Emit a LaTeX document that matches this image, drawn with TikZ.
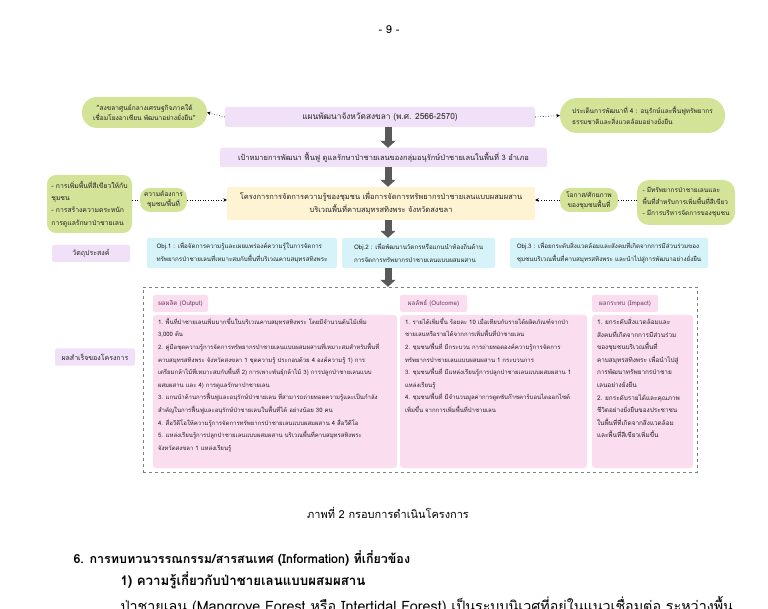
\documentclass[tikz,border=0pt]{standalone}
\usepackage{fontspec}
\setmainfont[Script=Thai]{Loma}
\usetikzlibrary{positioning,arrows.meta,calc}
\definecolor{leafgreen}{HTML}{D3E398}
\definecolor{planlilac}{HTML}{F1E1F8}
\definecolor{projcream}{HTML}{FEF4D3}
\definecolor{objcyan}{HTML}{D5F3F8}
\definecolor{respink}{HTML}{FBDDF0}
\definecolor{arrowgrey}{HTML}{595959}
\definecolor{inkgrey}{HTML}{222222}
\definecolor{headmauve}{HTML}{6E3A63}
\tikzset{
    box/.style={inner sep=0pt,text=inkgrey,align=center,font=\fontsize{6.6}{10}\selectfont},
    pill/.style={box,fill=leafgreen,rounded corners=9pt},
    tag/.style={box,fill=planlilac,rounded corners=2pt},
    objbox/.style={box,fill=objcyan,rounded corners=2pt,minimum height=30pt,align=left,font=\fontsize{6.2}{13}\selectfont},
    reshead/.style={box,fill=respink,rounded corners=2pt,minimum height=17pt,text=headmauve,font=\fontsize{6.3}{9}\selectfont},
    resbody/.style={box,fill=respink,rounded corners=3pt,minimum height=153pt},
    bodytxt/.style={inner sep=0pt,text=inkgrey,align=left,font=\fontsize{6}{12.6}\selectfont},
    dotlink/.style={draw=black,dotted,semithick},
    dotarrow/.style={dotlink,-{Stealth[length=3.5pt,width=3.5pt]}},
    blockarrow/.style={draw=arrowgrey,line width=7pt,-{Triangle[length=7pt,width=15pt]}},
}
\begin{document}
\begin{tikzpicture}[x=1pt,y=-1pt]
    \fill[white] (0,0) rectangle (768,609);
    \useasboundingbox (0,0) rectangle (768,609);
    \coordinate (ax) at (388,0);

    \node[font=\fontsize{11}{13}\selectfont] (pgno) at (389,30) {- 9 -};

    % top row
    \node[tag,minimum width=310pt,minimum height=20pt,font=\fontsize{8.3}{10}\selectfont] (plan) at (380,117) {แผนพัฒนาจังหวัดสงขลา (พ.ศ. 2566-2570)};
    \node[pill,minimum width=125pt,minimum height=31pt,rounded corners=15pt] (vision) at (144.5,112.5) {"สงขลาศูนย์กลางเศรษฐกิจภาคใต้\\เชื่อมโยงอาเซียน พัฒนาอย่างยั่งยืน"};
    \node[pill,minimum width=165pt,minimum height=35pt,rounded corners=17pt,align=left,font=\fontsize{6.5}{11}\selectfont] (issue) at (642.5,115.5) {ประเด็นการพัฒนาที่ 4 : อนุรักษ์และฟื้นฟูทรัพยากร\\ธรรมชาติและสิ่งแวดล้อมอย่างยั่งยืน};
    \node[tag,minimum width=327pt,minimum height=19pt,font=\fontsize{7.5}{9}\selectfont] (goal) at (383.5,157.5) {เป้าหมายการพัฒนา ฟื้นฟู ดูแลรักษาป่าชายเลนของกลุ่มอนุรักษ์ป่าชายเลนในพื้นที่ 3 อำเภอ};

    % project row
    \node[box,fill=projcream,rounded corners=2pt,minimum width=308pt,minimum height=33pt,font=\fontsize{7.5}{13}\selectfont] (project) at (381,203.5) {โครงการการจัดการความรู้ของชุมชน เพื่อการจัดการทรัพยากรป่าชายเลนแบบผสมผสาน\\บริเวณพื้นที่คาบสมุทรสทิงพระ จังหวัดสงขลา};
    \node[pill,minimum width=85pt,minimum height=58pt,align=left,font=\fontsize{6.8}{12.3}\selectfont] (needs) at (89.5,204) {- การเพิ่มพื้นที่สีเขียวให้กับ\\ชุมชน\\- การสร้างความตระหนัก\\การดูแลรักษาป่าชายเลน};
    \node[pill,minimum width=47pt,minimum height=24pt,rounded corners=10pt] (needlbl) at (163.5,200) {ความต้องการ\\ชุมชน/พื้นที่};
    \node[pill,minimum width=58pt,minimum height=24pt,rounded corners=10pt] (chancelbl) at (589,200) {โอกาส/ศักยภาพ\\ของชุมชนพื้นที่};
    \node[pill,minimum width=98pt,minimum height=45pt,rounded corners=12pt,align=left,font=\fontsize{6.5}{11.5}\selectfont] (chance) at (686,202.5) {- มีทรัพยากรป่าชายเลนและ\\พื้นที่สำหรับการเพิ่มพื้นที่สีเขียว\\- มีการบริหารจัดการของชุมชน};

    % objectives
    \node[tag,minimum width=78pt,minimum height=17pt,font=\fontsize{7}{9}\selectfont] (objlbl) at (91,253.5) {วัตถุประสงค์};
    \node[objbox,minimum width=190pt] (obj1) at (242,253) {Obj.1 : เพื่อจัดการความรู้และเผยแพร่องค์ความรู้ในการจัดการ\\ทรัพยากรป่าชายเลนที่เหมาะสมกับพื้นที่บริเวณคาบสมุทรสทิงพระ};
    \node[objbox,minimum width=153pt] (obj2) at (418.5,253) {Obj.2 : เพื่อพัฒนานวัตกรหรือแกนนำท้องถิ่นด้าน\\การจัดการทรัพยากรป่าชายเลนแบบผสมผสาน};
    \node[objbox,minimum width=198pt] (obj3) at (609,253) {Obj.3 : เพื่อยกระดับสิ่งแวดล้อมและสังคมที่เกิดจากการมีส่วนร่วมของ\\ชุมชนบริเวณพื้นที่คาบสมุทรสทิงพระ และนำไปสู่การพัฒนาอย่างยั่งยืน};

    % results
    \node[draw=gray,dashed,thin,minimum width=554pt,minimum height=185pt,inner sep=0pt] (frame) at (420,379.5) {};
    \node[tag,minimum width=80pt,minimum height=17pt,font=\fontsize{7}{9}\selectfont] (reslbl) at (95,357) {ผลสำเร็จของโครงการ};
    \node[reshead,minimum width=55pt] (outh) at (180.5,303.5) {ผลผลิต (Output)};
    \node[reshead,minimum width=67pt] (ocmh) at (433.5,303.5) {ผลลัพธ์ (Outcome)};
    \node[reshead,minimum width=66pt] (imph) at (625,303.5) {ผลกระทบ (Impact)};
    \node[resbody,minimum width=244pt] (outb) at (275,391.5) {};
    \node[resbody,minimum width=187pt] (ocmb) at (493.5,391.5) {};
    \node[resbody,minimum width=101pt] (impb) at (642.5,391.5) {};
    \node[bodytxt,anchor=north west] (outt) at ($(outb.north west)+(5,3)$) {1. พื้นที่ป่าชายเลนเพิ่มมากขึ้นในบริเวณคาบสมุทรสทิงพระ โดยมีจำนวนต้นไม้เพิ่ม\\3,000 ต้น\\2. คู่มือชุดความรู้การจัดการทรัพยากรป่าชายเลนแบบผสมผสานที่เหมาะสมสำหรับพื้นที่\\คาบสมุทรสทิงพระ จังหวัดสงขลา 1 ชุดความรู้ ประกอบด้วย 4 องค์ความรู้ 1) การ\\เตรียมกล้าไม้ที่เหมาะสมกับพื้นที่ 2) การเพาะพันธุ์กล้าไม้ 3) การปลูกป่าชายเลนแบบ\\ผสมผสาน และ 4) การดูแลรักษาป่าชายเลน\\3. แกนนำด้านการฟื้นฟูและอนุรักษ์ป่าชายเลน ที่สามารถถ่ายทอดความรู้และเป็นกำลัง\\สำคัญในการฟื้นฟูและอนุรักษ์ป่าชายเลนในพื้นที่ได้ อย่างน้อย 30 คน\\4. สื่อวีดีโอให้ความรู้การจัดการทรัพยากรป่าชายเลนแบบผสมผสาน 4 สื่อวีดีโอ\\5. แหล่งเรียนรู้การปลูกป่าชายเลนแบบผสมผสาน บริเวณพื้นที่คาบสมุทรสทิงพระ\\จังหวัดสงขลา 1 แหล่งเรียนรู้};
    \node[bodytxt,anchor=north west] (ocmt) at ($(ocmb.north west)+(5,3)$) {1. รายได้เพิ่มขึ้น ร้อยละ 10 เมื่อเทียบกับรายได้ผลิตภัณฑ์จากป่า\\ชายเลนหรือรายได้จากการเพิ่มพื้นที่ป่าชายเลน\\2. ชุมชน/พื้นที่ มีกระบวน การถ่ายทอดองค์ความรู้การจัดการ\\ทรัพยากรป่าชายเลนแบบผสมผสาน 1 กระบวนการ\\3. ชุมชน/พื้นที่ มีแหล่งเรียนรู้การปลูกป่าชายเลนแบบผสมผสาน 1\\แหล่งเรียนรู้\\4. ชุมชน/พื้นที่ มีจำนวนมูลค่าการดูดซับก๊าซคาร์บอนไดออกไซด์\\เพิ่มขึ้น จากการเพิ่มพื้นที่ป่าชายเลน};
    \node[bodytxt,anchor=north west,font=\fontsize{6.4}{12.6}\selectfont] (impt) at ($(impb.north west)+(5,3)$) {1. ยกระดับสิ่งแวดล้อมและ\\สังคมที่เกิดจากการมีส่วนร่วม\\ของชุมชนบริเวณพื้นที่\\คาบสมุทรสทิงพระ เพื่อนำไปสู่\\การพัฒนาทรัพยากรป่าชาย\\เลนอย่างยั่งยืน\\2. ยกระดับรายได้และคุณภาพ\\ชีวิตอย่างยั่งยืนของประชาชน\\ในพื้นที่ที่เกิดจากสิ่งแวดล้อม\\และพื้นที่สีเขียวเพิ่มขึ้น};

    % connectors
    \draw[dotarrow] (plan.west) -- (vision.east);
    \draw[dotarrow] (plan.east) -- (issue.west);
    \draw[dotlink] (needs.east |- needlbl.west) -- (needlbl.west);
    \draw[dotarrow] (needlbl.east) -- (needlbl.east -| project.west);
    \draw[dotlink] (chance.west |- chancelbl.east) -- (chancelbl.east);
    \draw[dotarrow] (chancelbl.west) -- (chancelbl.west -| project.east);
    \draw[blockarrow] (plan.south -| ax) -- (goal.north -| ax);
    \draw[blockarrow] (goal.south -| ax) -- (project.north -| ax);
    \draw[blockarrow] (project.south -| ax) -- (obj2.north -| ax);
    \draw[blockarrow] (obj2.south -| ax) -- (frame.north -| ax);

    % page text
    \node[font=\fontsize{11}{13}\selectfont] (cap) at (388,513) {ภาพที่ 2 กรอบการดำเนินโครงการ};
    \node[anchor=west,font=\bfseries\fontsize{12.5}{15}\selectfont] (sec) at (70,558) {6. การทบทวนวรรณกรรม/สารสนเทศ (Information) ที่เกี่ยวข้อง};
    \node[anchor=west,font=\bfseries\fontsize{13.3}{15}\selectfont] (subsec) at (117,580) {1) ความรู้เกี่ยวกับป่าชายเลนแบบผสมผสาน};
    \node[anchor=west,font=\fontsize{14.3}{16}\selectfont] (para) at (117,606) {ป่าชายเลน (Mangrove Forest หรือ Intertidal Forest) เป็นระบบนิเวศที่อยู่ในแนวเชื่อมต่อ ระหว่างพื้น};
\end{tikzpicture}
\end{document}
